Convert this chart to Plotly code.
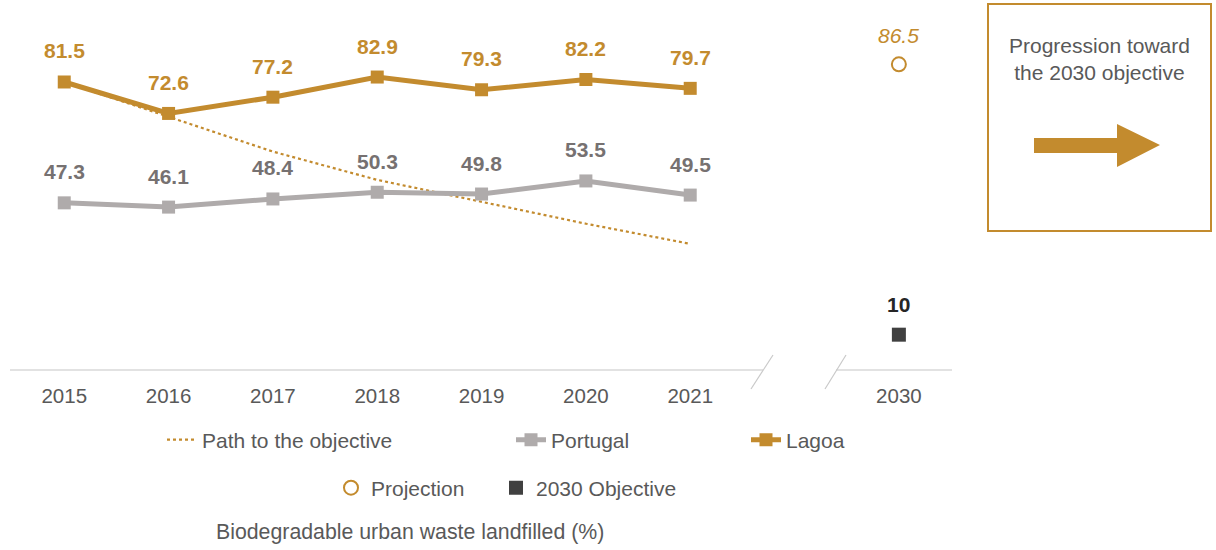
import plotly.graph_objects as go

# ---- data ----
years = ["2015", "2016", "2017", "2018", "2019", "2020", "2021"]
target_year = "2030"
lagoa = [81.5, 72.6, 77.2, 82.9, 79.3, 82.2, 79.7]
portugal = [47.3, 46.1, 48.4, 50.3, 49.8, 53.5, 49.5]
path_to_objective = [81.5, 71.7, 61.8, 53.8, 47.5, 41.4, 35.7]
projection_2030 = 86.5
objective_2030 = 10

# ---- styling ----
GOLD = "#C38B2E"
GREY = "#AFABAB"
GREY_TXT = "#767171"
DARK = "#404040"
TXT = "#595959"
FONT = "Liberation Sans, Arial, sans-serif"
FS = 21

W_FIG, H_FIG = 1216, 550
L, R, T, B = 10, 950, 10, 375  # plot area in pixels
PW, PH = R - L, B - T

def px(x):  # screen pixel -> paper
    return (x - L) / PW

def py(y):
    return (B - y) / PH

hist_pos = list(range(len(years)))
target_pos = len(years) + 1  # one empty slot for the axis break

fig = go.Figure()

fig.add_trace(go.Scatter(
    x=hist_pos, y=path_to_objective, mode="lines", name="Path to the objective",
    line=dict(color=GOLD, width=2.2, dash="dot"), legend="legend", hoverinfo="skip"))
fig.add_trace(go.Scatter(
    x=hist_pos, y=portugal, mode="lines+markers", name="Portugal",
    line=dict(color=GREY, width=5), marker=dict(symbol="square", size=13, color=GREY),
    legend="legend2"))
fig.add_trace(go.Scatter(
    x=hist_pos, y=lagoa, mode="lines+markers", name="Lagoa",
    line=dict(color=GOLD, width=5), marker=dict(symbol="square", size=13, color=GOLD),
    legend="legend3"))
fig.add_trace(go.Scatter(
    x=[target_pos], y=[projection_2030], mode="markers", name="Projection",
    marker=dict(symbol="circle-open", size=14, color=GOLD, line=dict(width=2, color=GOLD)),
    legend="legend4"))
fig.add_trace(go.Scatter(
    x=[target_pos], y=[objective_2030], mode="markers", name="2030 Objective",
    marker=dict(symbol="square", size=14, color=DARK),
    legend="legend5"))

ann = []
for i, v in enumerate(lagoa):
    ann.append(dict(x=hist_pos[i], y=v, text=f"<b>{v}</b>", showarrow=False, yshift=31,
                    font=dict(family=FONT, size=FS, color=GOLD)))
for i, v in enumerate(portugal):
    ann.append(dict(x=hist_pos[i], y=v, text=f"<b>{v}</b>", showarrow=False, yshift=31,
                    font=dict(family=FONT, size=FS, color=GREY_TXT)))
ann.append(dict(x=target_pos, y=projection_2030, text=f"<i>{projection_2030}</i>", showarrow=False,
                yshift=29, font=dict(family=FONT, size=FS, color=GOLD)))
ann.append(dict(x=target_pos, y=objective_2030, text=f"<b>{objective_2030}</b>", showarrow=False,
                yshift=30, font=dict(family=FONT, size=FS, color="#262626")))
# caption
ann.append(dict(xref="paper", yref="paper", x=px(410), y=py(532), text="Biodegradable urban waste landfilled (%)",
                showarrow=False, xanchor="center", yanchor="middle", font=dict(family=FONT, size=21.3, color=TXT)))
# box text
ann.append(dict(xref="paper", yref="paper", x=px(1099), y=py(59), text="Progression toward<br>the 2030 objective",
                showarrow=False, xanchor="center", yanchor="middle", align="center",
                font=dict(family=FONT, size=FS, color=TXT)))

shapes = []
AX = "#D9D9D9"
# broken axis line
shapes.append(dict(type="line", xref="paper", yref="paper", x0=px(10), x1=px(763), y0=py(370), y1=py(370),
                   line=dict(color=AX, width=1.5)))
shapes.append(dict(type="line", xref="paper", yref="paper", x0=px(836), x1=px(952), y0=py(370), y1=py(370),
                   line=dict(color=AX, width=1.5)))
shapes.append(dict(type="line", xref="paper", yref="paper", x0=px(751), x1=px(773), y0=py(389), y1=py(355),
                   line=dict(color="#C9C9C9", width=1.2)))
shapes.append(dict(type="line", xref="paper", yref="paper", x0=px(825), x1=px(846), y0=py(389), y1=py(355),
                   line=dict(color="#C9C9C9", width=1.2)))
# right box
shapes.append(dict(type="rect", xref="paper", yref="paper", x0=px(988), x1=px(1211), y0=py(231), y1=py(4),
                   line=dict(color=GOLD, width=2), fillcolor="rgba(0,0,0,0)"))
# arrow
pts = [(1034, 138), (1117, 138), (1117, 124), (1160, 145), (1117, 167), (1117, 153), (1034, 153)]
path = "M " + " L ".join(f"{px(a):.5f},{py(b):.5f}" for a, b in pts) + " Z"
shapes.append(dict(type="path", xref="paper", yref="paper", path=path, fillcolor=GOLD, line=dict(width=0)))

def leg(xpx, ypx):
    return dict(orientation="h", x=px(xpx), y=py(ypx), xanchor="left", yanchor="middle",
                bgcolor="rgba(0,0,0,0)", font=dict(family=FONT, size=FS, color=TXT))

fig.update_layout(
    width=W_FIG, height=H_FIG,
    margin=dict(l=L, r=W_FIG - R, t=T, b=H_FIG - B),
    paper_bgcolor="white", plot_bgcolor="white",
    showlegend=True,
    xaxis=dict(range=[-0.52, 8.49], tickvals=hist_pos + [target_pos], ticktext=years + [target_year],
               showgrid=False, zeroline=False, showline=False, ticks="", ticklabelstandoff=6,
               tickfont=dict(family=FONT, size=20.5, color=TXT)),
    yaxis=dict(range=[-1.41, 101.87], visible=False),
    legend=leg(162, 440), legend2=leg(511, 440), legend3=leg(746, 440),
    legend4=leg(331, 488), legend5=leg(496, 488),
    annotations=ann, shapes=shapes,
)

fig.write_html("out.html", config={"displayModeBar": False},
               post_script="document.body.style.margin='0px';document.body.style.overflow='hidden';")
